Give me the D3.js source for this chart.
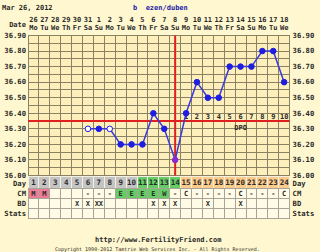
<!DOCTYPE html>
<html>
<head>
<meta charset="utf-8">
<script src="https://cdn.jsdelivr.net/npm/d3@7"></script>
<style>
  body { margin: 0; background: #fff7cf; }
  svg { display: block; }
  text { font-family: "DejaVu Sans Mono", monospace; font-weight: bold; fill: #2a2a2a; }
</style>
</head>
<body>
<svg id="chart"></svg>
<script>
var cycleDays = [1,2,3,4,5,6,7,8,9,10,11,12,13,14,15,16,17,18,19,20,21,22,23,24];
var dates = ["26","27","28","29","30","31","1","2","3","4","5","6","7","8","9","10","11","12","13","14","15","16","17","18"];
var weekdays = ["Mo","Tu","We","Th","Fr","Sa","Su","Mo","Tu","We","Th","Fr","Sa","Su","Mo","Tu","We","Th","Fr","Sa","Su","Mo","Tu","We"];
var temps = [null,null,null,null,null,36.30,36.30,36.30,36.20,36.20,36.20,36.40,36.30,36.10,36.40,36.60,36.50,36.50,36.70,36.70,36.70,36.80,36.80,36.60];
var openDays = [6, 8]; // discarded temps
var tempTicks = [36.90,36.80,36.70,36.60,36.50,36.40,36.30,36.20,36.10,36.00];
var dayPhase = ["g","g","g","g","g","g","g","g","g","g","f","f","f","f","l","l","l","l","l","l","l","l","l","l"];
var cm = ["M","M","","","","-","-","-","E","E","E","E","W","-","C","-","-","-","-","C","-","-","-","C"];
var bd = ["","","","","X","X","XX","","","","","X","X","X","","","X","","","X","","","",""];
var dpo = ["1","2","3","4","5","6","7","8","9","10"];
var ovulationDay = 14;
var coverline = 36.35;

var screen = {width: 320, height: 252};
var plot = {left: 28, right: 289.6, top: 35.5, bottom: 175.5};

var svg = d3.select("#chart")
            .attr("width", screen.width)
            .attr("height", screen.height);

var x = d3.scaleBand()
          .domain(cycleDays)
          .range([plot.left, plot.right]);

var y = d3.scaleLinear()
          .domain([36.0, 36.9])
          .range([plot.bottom, plot.top]);

var cx = function(d) { return x(d) + x.bandwidth() / 2; };

// header
svg.append("text").attr("x", 2).attr("y", 10).style("font-size", "7px").text("Mar 26, 2012");
svg.append("text").attr("x", 133).attr("y", 10).style("font-size", "7px").style("fill", "#2222aa")
   .text("b\u00a0\u00a0ezen/duben");

svg.append("text").attr("x", 26).attr("y", 27).attr("text-anchor", "end").style("font-size", "7px").text("Date");

svg.append("g").selectAll("text").data(cycleDays).enter().append("text")
   .attr("x", cx).attr("y", 22).attr("text-anchor", "middle").style("font-size", "7px")
   .text(function(d, i) { return dates[i]; });

svg.append("g").selectAll("text").data(cycleDays).enter().append("text")
   .attr("x", cx).attr("y", 30).attr("text-anchor", "middle").style("font-size", "7px")
   .text(function(d, i) { return weekdays[i]; });

// plot background + grid
svg.append("rect")
   .attr("x", plot.left).attr("y", plot.top)
   .attr("width", plot.right - plot.left).attr("height", plot.bottom - plot.top)
   .attr("fill", "#fcefbb");

var grid = svg.append("g").attr("stroke", "#8a8262").attr("stroke-width", 1).attr("shape-rendering", "crispEdges");

grid.selectAll("line.h").data(y.ticks(18)).enter().append("line")
    .attr("x1", plot.left).attr("x2", plot.right)
    .attr("y1", function(d) { return y(d); }).attr("y2", function(d) { return y(d); });

grid.selectAll("line.v").data(cycleDays.concat([25])).enter().append("line")
    .attr("x1", function(d) { return d == 25 ? plot.right : x(d); })
    .attr("x2", function(d) { return d == 25 ? plot.right : x(d); })
    .attr("y1", plot.top).attr("y2", plot.bottom);

// temp labels both sides
var leftAxis = d3.axisLeft(y).tickValues(tempTicks).tickSize(0).tickPadding(2).tickFormat(d3.format(".2f"));
var rightAxis = d3.axisRight(y).tickValues(tempTicks).tickSize(0).tickPadding(3).tickFormat(d3.format(".2f"));

svg.append("g").attr("transform", "translate(" + plot.left + ",-0.5)").call(leftAxis)
   .call(function(g) { g.select(".domain").remove(); })
   .selectAll("text").style("font-size", "7.2px").style("font-family", "DejaVu Sans Mono").attr("fill", "#2a2a2a");
svg.append("g").attr("transform", "translate(" + plot.right + ",-0.5)").call(rightAxis)
   .call(function(g) { g.select(".domain").remove(); })
   .selectAll("text").style("font-size", "7.2px").style("font-family", "DejaVu Sans Mono").attr("fill", "#2a2a2a");

// coverline + ovulation line
svg.append("line")
   .attr("x1", plot.left).attr("x2", plot.right)
   .attr("y1", y(coverline)).attr("y2", y(coverline))
   .attr("stroke", "#e02020").attr("stroke-width", 2);

svg.append("line")
   .attr("x1", cx(ovulationDay)).attr("x2", cx(ovulationDay))
   .attr("y1", plot.top).attr("y2", plot.bottom)
   .attr("stroke", "#e02020").attr("stroke-width", 2);

// DPO numbers
svg.append("g").selectAll("text").data(dpo).enter().append("text")
   .attr("x", function(d, i) { return cx(ovulationDay + 1 + i); })
   .attr("y", y(coverline) - 2).attr("text-anchor", "middle").style("font-size", "7px")
   .text(function(d) { return d; });
svg.append("text").attr("x", cx(20)).attr("y", y(coverline) + 9)
   .attr("text-anchor", "middle").style("font-size", "7px").text("DPO");

// temperature line
var pts = cycleDays.map(function(d, i) { return {day: d, t: temps[i]}; })
                   .filter(function(p) { return p.t != null; });

var line = d3.line()
             .x(function(p) { return cx(p.day); })
             .y(function(p) { return y(p.t); });

svg.append("path").datum(pts)
   .attr("d", line).attr("fill", "none")
   .attr("stroke", "#3a3adc").attr("stroke-width", 1.5);

svg.append("g").selectAll("circle").data(pts).enter().append("circle")
   .attr("cx", function(p) { return cx(p.day); })
   .attr("cy", function(p) { return y(p.t); })
   .attr("r", 2.8)
   .attr("fill", function(p) {
     if (openDays.indexOf(p.day) >= 0) return "#ffffff";
     return p.day == ovulationDay ? "#8a2ad0" : "#1e1ee0";
   })
   .attr("stroke", function(p) { return p.day == ovulationDay ? "#8a2ad0" : "#1e1ee0"; })
   .attr("stroke-width", 1);

// table rows
var rows = [
  {name: "Day", top: 176.5, h: 12},
  {name: "CM", top: 188.5, h: 10},
  {name: "BD", top: 198.5, h: 10},
  {name: "Stats", top: 208.5, h: 10}
];
var phaseColor = {g: "#c4c4c4", f: "#66cc66", l: "#fccb8a"};

rows.forEach(function(r) {
  var g = svg.append("g");
  g.selectAll("rect").data(cycleDays).enter().append("rect")
   .attr("x", function(d) { return x(d); }).attr("y", r.top)
   .attr("width", x.bandwidth()).attr("height", r.h)
   .attr("fill", function(d, i) {
     if (r.name == "Day") return phaseColor[dayPhase[i]];
     if (r.name == "CM") {
       if (cm[i] == "M") return "#ee7c96";
       if (cm[i] == "E" || cm[i] == "W") return "#66cc66";
     }
     return "#fffbe6";
   })
   .attr("stroke", r.name == "Day" ? "#f4f0e0" : "#a8a498").attr("stroke-width", 1)
   .attr("shape-rendering", "crispEdges");

  var ty = r.top + r.h / 2 + 2.6 + (r.name == "Day" ? 0.6 : 0);
  svg.append("text").attr("x", 26).attr("y", ty)
     .attr("text-anchor", "end").style("font-size", "7.2px").text(r.name);
  svg.append("text").attr("x", plot.right + 3).attr("y", ty)
     .style("font-size", "7.2px").text(r.name);
});

svg.append("g").selectAll("text").data(cycleDays).enter().append("text")
   .attr("x", cx).attr("y", rows[0].top + 8.8).attr("text-anchor", "middle").style("font-size", "7.5px")
   .text(function(d) { return d; });

svg.append("g").selectAll("text").data(cycleDays).enter().append("text")
   .attr("x", cx).attr("y", rows[1].top + 7.5).attr("text-anchor", "middle").style("font-size", "7px")
   .text(function(d, i) { return cm[i]; });

svg.append("g").selectAll("text").data(cycleDays).enter().append("text")
   .attr("x", cx).attr("y", rows[2].top + 7.5).attr("text-anchor", "middle").style("font-size", "7px")
   .text(function(d, i) { return bd[i]; });

// footer
svg.append("text").attr("x", 95).attr("y", 241.5).style("font-size", "7px")
   .text("http://www.FertilityFriend.com");
svg.append("text").attr("x", 55).attr("y", 250.5).style("font-size", "5px").style("font-weight", "normal")
   .text("Copyright 1990-2012 Tamtrie Web Services Inc. - All Rights Reserved.");
</script>
</body>
</html>
